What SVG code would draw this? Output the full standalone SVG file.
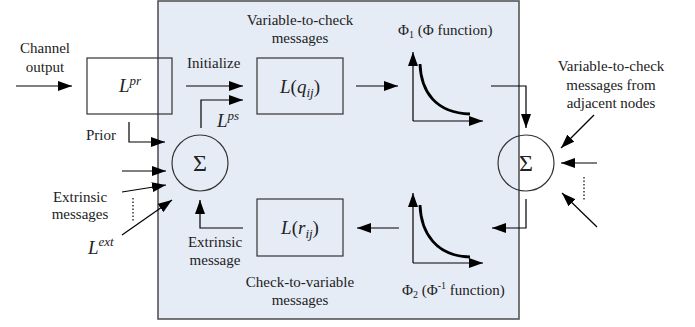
<svg xmlns="http://www.w3.org/2000/svg" width="695" height="327" viewBox="0 0 695 327">
<defs>
<marker id="ah" markerUnits="userSpaceOnUse" markerWidth="14" markerHeight="10" refX="14" refY="5" orient="auto"><path d="M0,0 L14,5 L0,10 z" fill="#000"/></marker>
<style>
.t{font-family:"Liberation Serif","Times New Roman",serif;font-size:15px;fill:#222}
.m{font-family:"Liberation Serif","Times New Roman",serif;font-size:19px;fill:#222;font-style:italic}
.s{font-family:"Liberation Serif","Times New Roman",serif;font-size:24px;fill:#222}
.c{text-anchor:middle}
.box{fill:none;stroke:#333;stroke-width:1.2}
.ln{fill:none;stroke:#000;stroke-width:1.2}
.ar{fill:none;stroke:#000;stroke-width:1.2;marker-end:url(#ah)}
.cv{fill:none;stroke:#000;stroke-width:2.8}
</style>
</defs>
<g id="checknode">
<rect x="158" y="1" width="361" height="318" fill="#e6ecf6" stroke="#555" stroke-width="1.6"/>
</g>
<g id="lpr">
<rect class="box" x="87" y="58" width="85" height="56"/>
<text class="m c" x="130" y="92">L<tspan font-size="13" dy="-7">pr</tspan></text>
</g>
<g id="sum-left">
<circle class="box" cx="200" cy="163" r="28"/>
<text class="s c" x="200" y="171">Σ</text>
</g>
<g id="lq">
<rect class="box" x="257" y="58" width="86" height="56"/>
<text class="m c" x="300" y="93">L<tspan font-style="normal">(</tspan>q<tspan font-size="13" dy="4">ij</tspan><tspan font-style="normal" dy="-4">)</tspan></text>
</g>
<g id="lr">
<rect class="box" x="257" y="199" width="86" height="57"/>
<text class="m c" x="300" y="234">L<tspan font-style="normal">(</tspan>r<tspan font-size="13" dy="4">ij</tspan><tspan font-style="normal" dy="-4">)</tspan></text>
</g>
<g id="phi1">
<path class="ar" d="M413,121 V52"/>
<path class="ar" d="M413,121 H483"/>
<path class="cv" d="M420,64 C421,92 436,113 470,114"/>
<text class="t" x="398" y="35">Φ<tspan font-size="10" dy="3">1</tspan><tspan dy="-3"> (Φ function)</tspan></text>
</g>
<g id="phi2">
<path class="ar" d="M413,263 V193"/>
<path class="ar" d="M413,263 H483"/>
<path class="cv" d="M420,205 C421,233 436,256 470,257"/>
<text class="t" x="402" y="295">Φ<tspan font-size="10" dy="3">2</tspan><tspan dy="-3"> (Φ</tspan><tspan font-size="10" dy="-6">-1</tspan><tspan dy="6"> function)</tspan></text>
</g>
<g id="sum-right">
<circle class="box" cx="526" cy="163" r="28"/>
<text class="s c" x="526" y="171">Σ</text>
</g>
<g id="labels">
<text class="t c" x="45" y="53">Channel</text>
<text class="t c" x="45" y="72">output</text>
<text class="t" x="187" y="68">Initialize</text>
<text class="m" x="217" y="127">L<tspan font-size="13" dy="-7">ps</tspan></text>
<text class="t" x="86" y="140">Prior</text>
<text class="t c" x="80" y="202">Extrinsic</text>
<text class="t c" x="80" y="219">messages</text>
<text class="m" x="88" y="254">L<tspan font-size="13" dy="-8">ext</tspan></text>
<text class="t c" x="215" y="247">Extrinsic</text>
<text class="t c" x="215" y="265">message</text>
<text class="t c" x="300" y="25">Variable-to-check</text>
<text class="t c" x="300" y="43">messages</text>
<text class="t c" x="300" y="287">Check-to-variable</text>
<text class="t c" x="300" y="305">messages</text>
<text class="t c" x="611" y="71">Variable-to-check</text>
<text class="t c" x="611" y="90">messages from</text>
<text class="t c" x="611" y="108">adjacent nodes</text>
</g>
<g id="connectors">
<path class="ar" d="M16,86 H72"/>
<path class="ar" d="M186,86 H243"/>
<path class="ar" d="M201,128 V100 H243"/>
<path class="ar" d="M129,122 V142 H165"/>
<path class="ar" d="M122,171 H166"/>
<path class="ar" d="M122,192 L166,185"/>
<path class="ar" d="M122,235 L172,200"/>
<path class="ln" d="M133,198 V222" stroke-dasharray="1.5,2"/>
<path class="ar" d="M356,86 H398"/>
<path class="ar" d="M491,86 H526 V128"/>
<path class="ar" d="M597,163 H561"/>
<path class="ar" d="M594,115 L561,148"/>
<path class="ar" d="M597,227 L562,193"/>
<path class="ln" d="M584,177 V201" stroke-dasharray="1.5,2"/>
<path class="ar" d="M526,199 V228 H492"/>
<path class="ar" d="M399,228 H357"/>
<path class="ar" d="M243,228 H200 V200"/>
</g>
</svg>
